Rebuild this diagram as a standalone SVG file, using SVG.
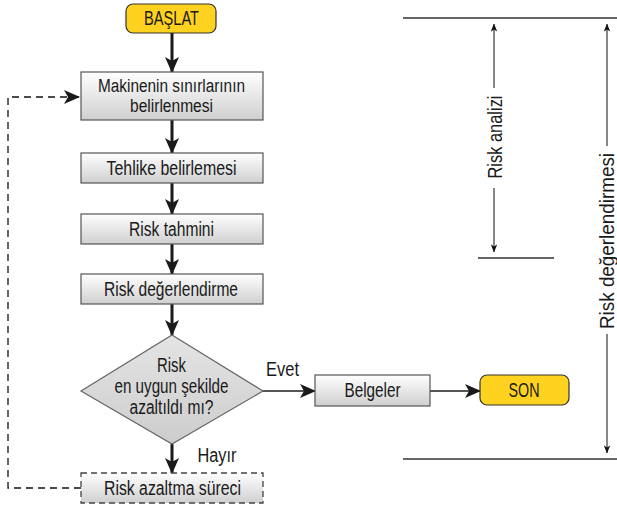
<svg xmlns="http://www.w3.org/2000/svg" width="617" height="506" viewBox="0 0 617 506">
  <style>
    text { font-family: "Liberation Sans", Arial, sans-serif; font-size: 19.5px; fill: #1a1a1a; text-anchor: middle; }
    .two { font-size: 18px; }
    .big { font-size: 20px; }
    .term { fill: #ffd21f; stroke: #333; stroke-width: 1.2; }
    .box { fill: url(#boxGrad); stroke: #555; stroke-width: 1.2; }
    .dashedbox { fill: url(#boxGrad); stroke: #444; stroke-width: 1.3; stroke-dasharray: 6 4; }
    .flow { stroke: #1a1a1a; stroke-width: 3; fill: none; }
    .side { stroke: #555; stroke-width: 2; fill: none; }
    .feedback { stroke: #111; stroke-width: 1.3; fill: none; stroke-dasharray: 7 5; }
    .rule { stroke: #666; stroke-width: 2; }
    .dim { stroke: #111; stroke-width: 1; fill: none; }
  </style>
  <defs>
    <linearGradient id="boxGrad" x1="0" y1="0" x2="0" y2="1">
      <stop offset="0" stop-color="#ffffff"/>
      <stop offset="1" stop-color="#cfcfcf"/>
    </linearGradient>
    <linearGradient id="diaGrad" x1="0" y1="0" x2="0" y2="1">
      <stop offset="0" stop-color="#e4e4e4"/>
      <stop offset="1" stop-color="#cdcdcd"/>
    </linearGradient>
    <marker id="ah" viewBox="0 0 16 14" markerWidth="16" markerHeight="14" refX="15" refY="7" orient="auto" markerUnits="userSpaceOnUse">
      <path d="M0,0 L16,7 L0,14 L4,7 z" fill="#1a1a1a"/>
    </marker>
    <marker id="sm" viewBox="0 0 10 8" markerWidth="8" markerHeight="7" refX="9.5" refY="4" orient="auto" markerUnits="userSpaceOnUse">
      <path d="M0,0 L10,4 L0,8 L2.5,4 z" fill="#111"/>
    </marker>
  </defs>

  <!-- connectors -->
  <g id="connectors">
    <line class="flow" x1="172" y1="33" x2="172" y2="72" marker-end="url(#ah)"/>
    <line class="flow" x1="172" y1="120" x2="172" y2="153" marker-end="url(#ah)"/>
    <line class="flow" x1="172" y1="183" x2="172" y2="214" marker-end="url(#ah)"/>
    <line class="flow" x1="172" y1="244" x2="172" y2="274" marker-end="url(#ah)"/>
    <line class="flow" x1="172" y1="304" x2="172" y2="335" marker-end="url(#ah)"/>
    <line class="flow" x1="172" y1="444" x2="172" y2="473" marker-end="url(#ah)"/>
    <line class="side" x1="263" y1="391" x2="315" y2="391" marker-end="url(#ah)"/>
    <line class="side" x1="430" y1="391" x2="480" y2="391" marker-end="url(#ah)"/>
    <path class="feedback" d="M81,488 H8 V97 H79" marker-end="url(#ah)"/>
    <text x="282.5" y="376" textLength="33" lengthAdjust="spacingAndGlyphs">Evet</text>
    <text x="217" y="462" textLength="39" lengthAdjust="spacingAndGlyphs">Hayır</text>
  </g>

  <!-- flow nodes -->
  <g id="start">
    <rect class="term" x="126" y="4" width="90" height="29" rx="7"/>
    <text x="171.5" y="25" textLength="55" lengthAdjust="spacingAndGlyphs">BAŞLAT</text>
  </g>
  <g id="limits">
    <rect class="box" x="81" y="72" width="182" height="48"/>
    <text class="two" x="171.5" y="92" textLength="147" lengthAdjust="spacingAndGlyphs">Makinenin sınırlarının</text>
    <text class="two" x="171.5" y="112" textLength="83" lengthAdjust="spacingAndGlyphs">belirlenmesi</text>
  </g>
  <g id="hazard">
    <rect class="box" x="81" y="153" width="182" height="30"/>
    <text x="171.5" y="175" textLength="130" lengthAdjust="spacingAndGlyphs">Tehlike belirlemesi</text>
  </g>
  <g id="estimation">
    <rect class="box" x="81" y="214" width="182" height="30"/>
    <text x="171.5" y="236" textLength="85" lengthAdjust="spacingAndGlyphs">Risk tahmini</text>
  </g>
  <g id="evaluation">
    <rect class="box" x="81" y="274" width="182" height="30"/>
    <text x="171" y="296" textLength="134" lengthAdjust="spacingAndGlyphs">Risk değerlendirme</text>
  </g>
  <g id="decision">
    <polygon points="172,335 263,391 172,444 81,391" fill="url(#diaGrad)" stroke="#666" stroke-width="1.2"/>
    <text x="171.5" y="372" textLength="29" lengthAdjust="spacingAndGlyphs">Risk</text>
    <text x="171.5" y="393" textLength="114" lengthAdjust="spacingAndGlyphs">en uygun şekilde</text>
    <text x="171.5" y="414" textLength="84" lengthAdjust="spacingAndGlyphs">azaltıldı mı?</text>
  </g>
  <g id="reduction">
    <rect class="dashedbox" x="81" y="473" width="182" height="30"/>
    <text x="172.5" y="495" textLength="137" lengthAdjust="spacingAndGlyphs">Risk azaltma süreci</text>
  </g>
  <g id="docs">
    <rect class="box" x="315" y="375" width="115" height="31"/>
    <text x="372.5" y="397" textLength="56" lengthAdjust="spacingAndGlyphs">Belgeler</text>
  </g>
  <g id="end">
    <rect class="term" x="480" y="375" width="89" height="30" rx="7"/>
    <text x="524" y="397" textLength="31" lengthAdjust="spacingAndGlyphs">SON</text>
  </g>

  <!-- scope brackets on the right -->
  <g id="scope">
    <line class="rule" x1="403" y1="18" x2="617" y2="18"/>
    <line class="rule" x1="478" y1="258" x2="554" y2="258"/>
    <line class="rule" x1="403" y1="459" x2="617" y2="459"/>
    <line class="dim" x1="494" y1="88" x2="494" y2="24" marker-end="url(#sm)"/>
    <line class="dim" x1="494" y1="188" x2="494" y2="252" marker-end="url(#sm)"/>
    <text class="big" transform="translate(502,137) rotate(-90)" textLength="83" lengthAdjust="spacingAndGlyphs">Risk analizi</text>
    <line class="dim" x1="607" y1="146" x2="607" y2="24" marker-end="url(#sm)"/>
    <line class="dim" x1="607" y1="334" x2="607" y2="453" marker-end="url(#sm)"/>
    <text class="big" transform="translate(614,241) rotate(-90)" textLength="176" lengthAdjust="spacingAndGlyphs">Risk değerlendirmesi</text>
  </g>
</svg>
